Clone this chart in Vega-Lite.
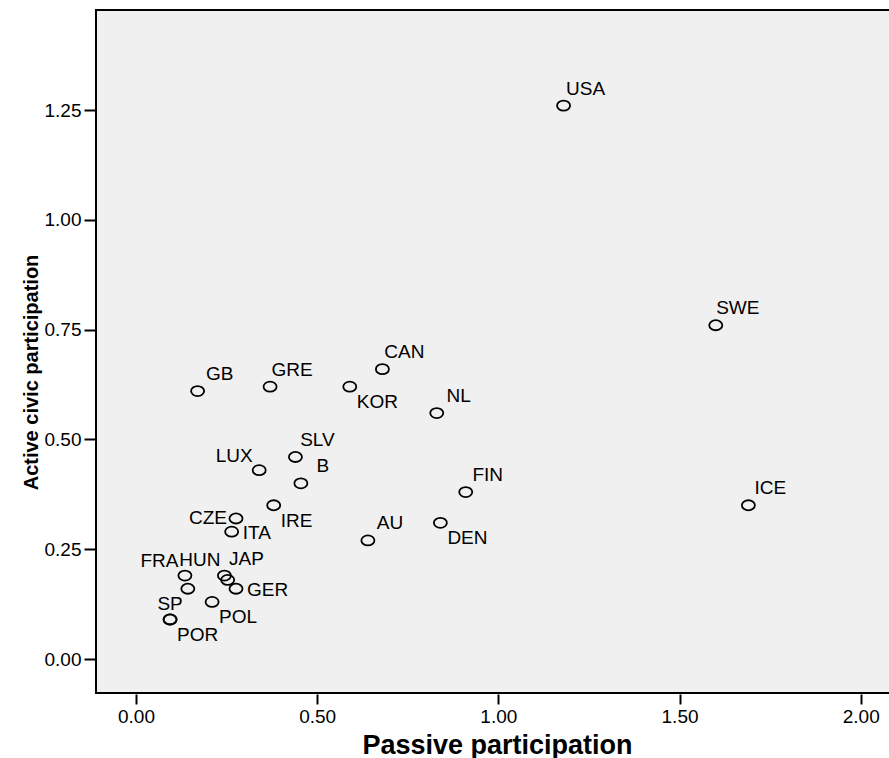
{
  "$schema": "https://vega.github.io/schema/vega-lite/v6.json",
  "width": 800,
  "height": 683,
  "autosize": {"type": "none"},
  "padding": {"left": 96, "top": 10, "right": 0, "bottom": 65},
  "background": "white",
  "config": {
    "view": {"fill": "#f0f0f0", "stroke": "black", "strokeWidth": 2},
    "font": "Liberation Sans",
    "text": {"font": "Liberation Sans", "fontSize": 19, "color": "black", "baseline": "middle"}
  },
  "data": {
    "values": [
      {"country": "USA", "passive": 1.18, "active": 1.26, "pos": "ur"},
      {"country": "SWE", "passive": 1.60, "active": 0.76, "pos": "ur"},
      {"country": "ICE", "passive": 1.69, "active": 0.35, "pos": "ur"},
      {"country": "GB", "passive": 0.17, "active": 0.61, "pos": "ur"},
      {"country": "GRE", "passive": 0.37, "active": 0.62, "pos": "ur"},
      {"country": "KOR", "passive": 0.59, "active": 0.62, "pos": "lr"},
      {"country": "CAN", "passive": 0.68, "active": 0.66, "pos": "ur"},
      {"country": "NL", "passive": 0.83, "active": 0.56, "pos": "ur"},
      {"country": "SLV", "passive": 0.44, "active": 0.46, "pos": "ur"},
      {"country": "LUX", "passive": 0.34, "active": 0.43, "pos": "ul"},
      {"country": "B", "passive": 0.455, "active": 0.40, "pos": "ur"},
      {"country": "IRE", "passive": 0.38, "active": 0.35, "pos": "lr"},
      {"country": "CZE", "passive": 0.276, "active": 0.32, "pos": "l"},
      {"country": "ITA", "passive": 0.264, "active": 0.29, "pos": "r"},
      {"country": "AU", "passive": 0.64, "active": 0.27, "pos": "ur"},
      {"country": "DEN", "passive": 0.84, "active": 0.31, "pos": "lr"},
      {"country": "FIN", "passive": 0.91, "active": 0.38, "pos": "ur"},
      {"country": "FRA", "passive": 0.135, "active": 0.19, "pos": "ul"},
      {"country": "HUN", "passive": 0.143, "active": 0.16, "pos": "uu"},
      {"country": "JAP", "passive": 0.244, "active": 0.19, "pos": "ur"},
      {"country": "", "passive": 0.253, "active": 0.18, "pos": "none"},
      {"country": "GER", "passive": 0.276, "active": 0.16, "pos": "r"},
      {"country": "SP", "passive": 0.094, "active": 0.09, "pos": "u"},
      {"country": "POR", "passive": 0.094, "active": 0.09, "pos": "lr"},
      {"country": "POL", "passive": 0.21, "active": 0.13, "pos": "lr"}
    ]
  },
  "encoding": {
    "x": {
      "field": "passive",
      "type": "quantitative",
      "scale": {"domain": [-0.1104, 2.0974], "nice": false, "zero": false},
      "axis": {
        "values": [0, 0.5, 1, 1.5, 2],
        "format": ".2f",
        "domain": false,
        "grid": false,
        "tickSize": 10,
        "tickWidth": 2,
        "tickColor": "black",
        "offset": 1,
        "labelFont": "Liberation Sans",
        "labelFontSize": 19,
        "labelColor": "black",
        "labelPadding": 3,
        "labelFlush": false,
        "labelOverlap": false,
        "title": "Passive participation",
        "titleFont": "Liberation Sans",
        "titleFontSize": 27,
        "titleFontWeight": "bold",
        "titleColor": "black",
        "titleX": 401,
        "titleY": 51,
        "titleBaseline": "middle"
      }
    },
    "y": {
      "field": "active",
      "type": "quantitative",
      "scale": {"domain": [-0.0774, 1.4777], "nice": false, "zero": false},
      "axis": {
        "values": [0, 0.25, 0.5, 0.75, 1, 1.25],
        "format": ".2f",
        "domain": false,
        "grid": false,
        "tickSize": 12,
        "tickWidth": 2,
        "tickColor": "black",
        "labelFont": "Liberation Sans",
        "labelFontSize": 19,
        "labelColor": "black",
        "labelPadding": 3,
        "title": "Active civic participation",
        "titleFont": "Liberation Sans",
        "titleFontSize": 20,
        "titleFontWeight": "bold",
        "titleColor": "black",
        "titleX": -65,
        "titleY": 362,
        "titleBaseline": "middle"
      }
    }
  },
  "layer": [
    {
      "mark": {
        "type": "point",
        "shape": "M-1,0A1,0.77,0,1,0,1,0A1,0.77,0,1,0,-1,0Z",
        "size": 170,
        "filled": false,
        "stroke": "black",
        "strokeWidth": 1.8,
        "opacity": 1
      }
    },
    {
      "transform": [{"filter": "datum.pos == 'ur'"}],
      "mark": {"type": "text", "align": "center", "dx": 22, "dy": -17},
      "encoding": {"text": {"field": "country"}}
    },
    {
      "transform": [{"filter": "datum.pos == 'lr'"}],
      "mark": {"type": "text", "align": "left", "dx": 7, "dy": 15.5},
      "encoding": {"text": {"field": "country"}}
    },
    {
      "transform": [{"filter": "datum.pos == 'ul'"}],
      "mark": {"type": "text", "align": "right", "dx": -6.5, "dy": -14.5},
      "encoding": {"text": {"field": "country"}}
    },
    {
      "transform": [{"filter": "datum.pos == 'r'"}],
      "mark": {"type": "text", "align": "left", "dx": 11, "dy": 1},
      "encoding": {"text": {"field": "country"}}
    },
    {
      "transform": [{"filter": "datum.pos == 'l'"}],
      "mark": {"type": "text", "align": "right", "dx": -9, "dy": 0},
      "encoding": {"text": {"field": "country"}}
    },
    {
      "transform": [{"filter": "datum.pos == 'u'"}],
      "mark": {"type": "text", "align": "center", "dx": 0, "dy": -15},
      "encoding": {"text": {"field": "country"}}
    },
    {
      "transform": [{"filter": "datum.pos == 'uu'"}],
      "mark": {"type": "text", "align": "center", "dx": 12, "dy": -29},
      "encoding": {"text": {"field": "country"}}
    }
  ]
}
